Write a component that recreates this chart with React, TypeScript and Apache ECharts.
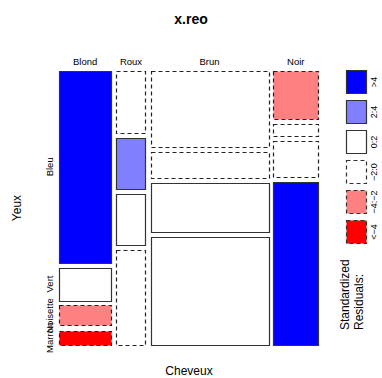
import React, { useEffect, useRef } from "react";
import * as echarts from "echarts";

const hairLevels = ["Blond", "Roux", "Brun", "Noir"];
const eyeLevels = ["Bleu", "Vert", "Noisette", "Marron"]; // top to bottom
const blondCounts = [94, 16, 10, 7];
const rouxCounts = [17, 14, 14, 26];
const brunCounts = [84, 29, 54, 119];
const noirCounts = [20, 5, 15, 68];
const legendLabels = [">4", "2:4", "0:2", "\u22122:0", "\u22124:\u22122", "<\u22124"];

const counts = [blondCounts, rouxCounts, brunCounts, noirCounts];
const FONT = "'Liberation Sans', Arial, Helvetica, sans-serif";
const GAP = 5;

const colTot = counts.map((c) => c.reduce((a, b) => a + b, 0));
const N = colTot.reduce((a, b) => a + b, 0);
const rowTot = eyeLevels.map((_, r) => counts.reduce((a, c) => a + c[r], 0));
const colCum = colTot.map((_, i) => colTot.slice(0, i).reduce((a, b) => a + b, 0));

function residual(c: number, r: number) {
  const e = (colTot[c] * rowTot[r]) / N;
  return (counts[c][r] - e) / Math.sqrt(e);
}

const legendStyles = [
  { fill: "#0000FF", dash: false },
  { fill: "#8080FF", dash: false },
  { fill: "#FFFFFF", dash: false },
  { fill: "#FFFFFF", dash: true },
  { fill: "#FF8080", dash: true },
  { fill: "#FF0000", dash: true },
];

function styleFor(res: number) {
  if (res > 4) return legendStyles[0];
  if (res > 2) return legendStyles[1];
  if (res > 0) return legendStyles[2];
  if (res > -2) return legendStyles[3];
  if (res > -4) return legendStyles[4];
  return legendStyles[5];
}

const cellData: number[][] = [];
counts.forEach((col, c) => col.forEach((_, r) => cellData.push([c, r])));

export default function App() {
  const ref = useRef<HTMLDivElement>(null);
  useEffect(() => {
    if (!ref.current) return;
    const chart = echarts.init(ref.current, null, { renderer: "svg" });
    const renderItem = (params: any, api: any) => {
      const c = api.value(0);
      const r = api.value(1);
      const p0 = api.coord([0, 0]);
      const p1 = api.coord([1, 1]);
      const W = p1[0] - p0[0] - GAP * (hairLevels.length - 1);
      const H = p1[1] - p0[1] - GAP * (eyeLevels.length - 1);
      const left = p0[0] + (colCum[c] / N) * W + c * GAP;
      const width = (colTot[c] / N) * W;
      const before = counts[c].slice(0, r).reduce((a, b) => a + b, 0);
      const top = p0[1] + (before / colTot[c]) * H + r * GAP;
      const height = (counts[c][r] / colTot[c]) * H;
      const st = styleFor(residual(c, r));
      const children: any[] = [
        {
          type: "rect",
          shape: { x: Math.round(left) + 0.5, y: Math.round(top) + 0.5, width: Math.round(width), height: Math.round(height) },
          style: {
            fill: st.fill,
            stroke: st.dash ? "#222" : "#333",
            lineWidth: 1.2,
            lineDash: st.dash ? [4, 3] : null,
          },
        },
      ];
      if (r === 0) {
        children.push({
          type: "text",
          x: left + width / 2,
          y: 61,
          style: { text: hairLevels[c], fill: "#000", font: `9.5px ${FONT}`, align: "center", verticalAlign: "middle" },
        });
      }
      if (c === 0) {
        children.push({
          type: "text",
          x: 49,
          y: top + height / 2,
          rotation: Math.PI / 2,
          style: { text: eyeLevels[r], fill: "#000", font: `9.5px ${FONT}`, align: "center", verticalAlign: "middle" },
        });
      }
      return { type: "group", children };
    };

    const graphics: any[] = [
      {
        type: "text",
        x: 191,
        y: 19,
        style: { text: "x.reo", fill: "#000", font: `bold 14px ${FONT}`, align: "center", verticalAlign: "middle" },
      },
      {
        type: "text",
        x: 189,
        y: 371,
        style: { text: "Cheveux", fill: "#000", font: `12px ${FONT}`, align: "center", verticalAlign: "middle" },
      },
      {
        type: "text",
        x: 17,
        y: 208,
        rotation: Math.PI / 2,
        style: { text: "Yeux", fill: "#000", font: `12px ${FONT}`, align: "center", verticalAlign: "middle" },
      },
      {
        type: "text",
        x: 352,
        y: 330,
        rotation: Math.PI / 2,
        style: {
          text: "Standardized\nResiduals:",
          fill: "#000",
          font: `12px ${FONT}`,
          align: "left",
          verticalAlign: "middle",
          lineHeight: 14,
        },
      },
    ];
    legendStyles.forEach((s, i) => {
      const y = 70 + i * 30;
      graphics.push({
        type: "rect",
        shape: { x: 346.5, y: y + 0.5, width: 20, height: 23 },
        style: { fill: s.fill, stroke: "#333", lineWidth: 1.2, lineDash: s.dash ? [4, 3] : null },
      });
      graphics.push({
        type: "text",
        x: 374,
        y: y + 12,
        rotation: Math.PI / 2,
        style: { text: legendLabels[i], fill: "#000", font: `9px ${FONT}`, align: "center", verticalAlign: "middle" },
      });
    });

    chart.setOption({
      animation: false,
      grid: { left: 59, top: 71, width: 259, height: 274 },
      xAxis: { type: "value", min: 0, max: 1, show: false },
      yAxis: { type: "value", min: 0, max: 1, inverse: true, show: false },
      series: [
        {
          type: "custom",
          renderItem,
          data: cellData,
          encode: { x: 0, y: 1 },
          clip: false,
        },
      ],
      graphic: graphics,
    });
    return () => chart.dispose();
  }, []);
  return <div ref={ref} style={{ width: 382, height: 378, position: "absolute", left: 0, top: 0, background: "#fff" }} />;
}
